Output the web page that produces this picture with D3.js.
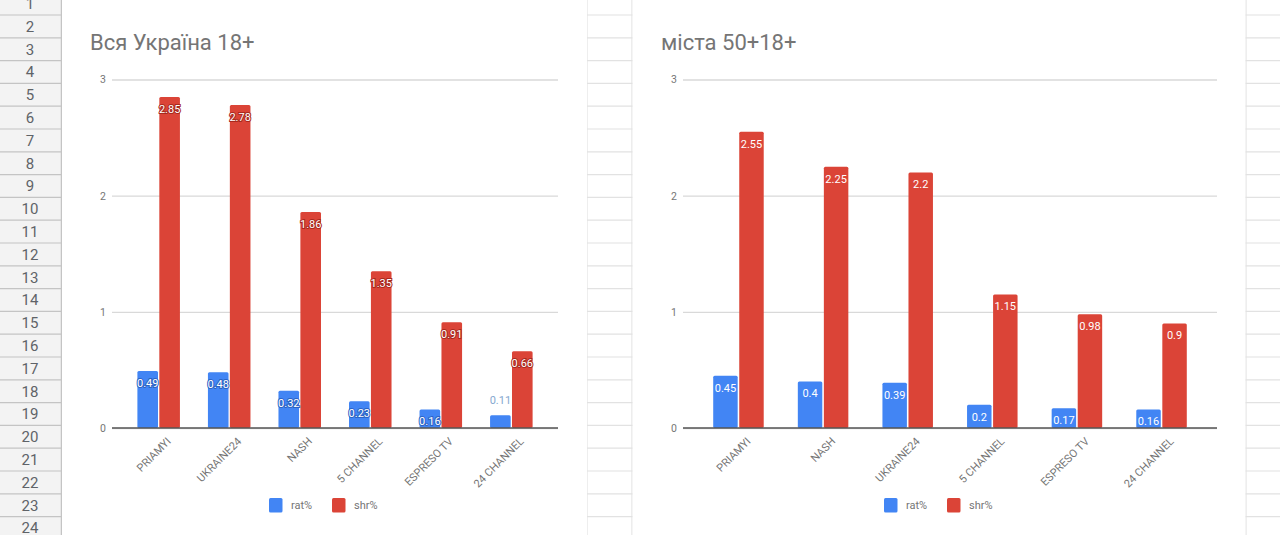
<!DOCTYPE html>
<html>
<head>
<meta charset="utf-8">
<script src="https://cdn.jsdelivr.net/npm/d3@7"></script>
<style>
  body { margin: 0; background: #fff; }
  svg { display: block; font-family: Roboto, "Noto Sans", Arial, sans-serif; }
</style>
</head>
<body>
<div id="sheet"></div>
<script>
// Chart data
const categoriesAll = ["PRIAMYI", "UKRAINE24", "NASH", "5 CHANNEL", "ESPRESO TV", "24 CHANNEL"];
const ratAll = [0.49, 0.48, 0.32, 0.23, 0.16, 0.11];
const shrAll = [2.85, 2.78, 1.86, 1.35, 0.91, 0.66];

const categoriesCities = ["PRIAMYI", "NASH", "UKRAINE24", "5 CHANNEL", "ESPRESO TV", "24 CHANNEL"];
const ratCities = [0.45, 0.4, 0.39, 0.2, 0.17, 0.16];
const shrCities = [2.55, 2.25, 2.2, 1.15, 0.98, 0.9];

const seriesNames = ["rat%", "shr%"];
const yTicks = [0, 1, 2, 3];
const rowNumbers = d3.range(1, 25);

const BLUE = "#4285F4";
const RED = "#DB4437";
const TEXT_GRAY = "#757575";

const width = 1280;
const height = 535;

const svg = d3
  .select("#sheet")
  .append("svg")
  .attr("width", width)
  .attr("height", height);

// Spreadsheet background: cell grid lines and row header
const rowTop = (n) => 15 + (n - 2) * 22.8;

svg
  .selectAll(".cell-line")
  .data(rowNumbers)
  .enter()
  .append("line")
  .attr("class", "cell-line")
  .attr("x1", 62)
  .attr("x2", width)
  .attr("y1", (d) => rowTop(d + 1))
  .attr("y2", (d) => rowTop(d + 1))
  .attr("stroke", "#e2e2e2")
  .attr("stroke-width", 1.2);

[587, 632, 1246].forEach((x) => {
  svg
    .append("line")
    .attr("x1", x)
    .attr("x2", x)
    .attr("y1", 0)
    .attr("y2", height)
    .attr("stroke", "#e2e2e2")
    .attr("stroke-width", 1.2);
});

svg
  .append("rect")
  .attr("x", 0)
  .attr("y", 0)
  .attr("width", 61)
  .attr("height", height)
  .attr("fill", "#f3f3f3");

svg
  .selectAll(".row-line")
  .data(rowNumbers)
  .enter()
  .append("line")
  .attr("class", "row-line")
  .attr("x1", 0)
  .attr("x2", 61)
  .attr("y1", (d) => rowTop(d + 1))
  .attr("y2", (d) => rowTop(d + 1))
  .attr("stroke", "#c4c4c4")
  .attr("stroke-width", 1.2);

svg
  .append("line")
  .attr("x1", 61.5)
  .attr("x2", 61.5)
  .attr("y1", 0)
  .attr("y2", height)
  .attr("stroke", "#c4c4c4")
  .attr("stroke-width", 1.5);

svg
  .selectAll(".row-label")
  .data(rowNumbers)
  .enter()
  .append("text")
  .attr("class", "row-label")
  .attr("x", 30)
  .attr("y", (d) => rowTop(d) + 11.4)
  .attr("dy", "0.36em")
  .attr("text-anchor", "middle")
  .style("font-size", "15px")
  .style("fill", "#5f6368")
  .text((d) => d);

/**
 * @function drawChart
 * @description Clustered column chart in the Google Sheets style
 */
function drawChart(opts) {
  const { left, right, title, titleX, gridX, categories, rat, shr, outlined } = opts;

  const g = svg.append("g");

  // White chart area over the cell grid
  g.append("rect")
    .attr("x", left)
    .attr("y", 0)
    .attr("width", right - left)
    .attr("height", height)
    .attr("fill", "#fff");

  g.append("text")
    .attr("x", titleX)
    .attr("y", 50)
    .style("font-size", "22px")
    .style("fill", TEXT_GRAY)
    .text(title);

  const yScale = d3.scaleLinear().domain([0, 3]).range([428, 79.5]);

  const xScale = d3
    .scaleBand()
    .domain(categories)
    .range(gridX)
    .paddingInner(opts.paddingInner)
    .paddingOuter(opts.paddingOuter);

  const xSub = d3
    .scaleBand()
    .domain(seriesNames)
    .range([0, xScale.bandwidth()])
    .paddingInner(0.06);

  // Gridlines and y labels
  const yAxis = d3
    .axisLeft(yScale)
    .tickValues(yTicks)
    .tickSize(-(gridX[1] - gridX[0]))
    .tickPadding(6)
    .tickFormat(d3.format("d"));

  const yg = g
    .append("g")
    .attr("transform", `translate(${gridX[0]}, 0)`)
    .call(yAxis);
  yg.select(".domain").remove();
  yg.selectAll(".tick line").attr("stroke", "#d9d9d9").attr("stroke-width", 1.3);
  yg.selectAll(".tick text")
    .style("font-size", "10.5px")
    .style("font-family", "Roboto, Arial, sans-serif")
    .style("fill", TEXT_GRAY);

  const rows = categories.map((c, i) => ({ category: c, values: [rat[i], shr[i]] }));

  const groups = g
    .selectAll(".group")
    .data(rows)
    .enter()
    .append("g")
    .attr("class", "group")
    .attr("transform", (d) => `translate(${xScale(d.category)}, 0)`);

  const colours = [BLUE, RED];
  const darker = ["#2c63c4", "#a8291e"];

  groups
    .selectAll("rect")
    .data((d) => d.values.map((v, k) => ({ v, k })))
    .enter()
    .append("rect")
    .attr("x", (d) => xSub(seriesNames[d.k]))
    .attr("y", (d) => yScale(d.v))
    .attr("width", xSub.bandwidth())
    .attr("height", (d) => yScale(0) - yScale(d.v))
    .attr("rx", 1.5)
    .attr("fill", (d) => colours[d.k]);

  // Data labels: inside the bar top, or above it when the bar is too short
  groups
    .selectAll(".value")
    .data((d) => d.values.map((v, k) => ({ v, k })))
    .enter()
    .append("text")
    .attr("class", "value")
    .attr("x", (d) => xSub(seriesNames[d.k]) + xSub.bandwidth() / 2)
    .attr("y", (d) => {
      const top = yScale(d.v);
      return yScale(0) - top > 15 ? top + 12 : top - 15;
    })
    .attr("dy", "0.36em")
    .attr("text-anchor", "middle")
    .style("font-size", "11px")
    .style("fill", (d) => (yScale(0) - yScale(d.v) > 15 ? "#fff" : "#86a8cf"))
    .style("stroke", (d) =>
      outlined && yScale(0) - yScale(d.v) > 15 ? darker[d.k] : "none"
    )
    .style("stroke-width", 2)
    .style("paint-order", "stroke")
    .text((d) => d.v);

  // Baseline and rotated category labels
  g.append("line")
    .attr("x1", gridX[0])
    .attr("x2", gridX[1])
    .attr("y1", yScale(0))
    .attr("y2", yScale(0))
    .attr("stroke", "#555")
    .attr("stroke-width", 1.5);

  g.selectAll(".cat")
    .data(categories)
    .enter()
    .append("text")
    .attr("class", "cat")
    .attr(
      "transform",
      (d) => `translate(${xScale(d) + xScale.bandwidth() / 2 + 13}, 442) rotate(-45)`
    )
    .attr("text-anchor", "end")
    .style("font-size", "11px")
    .style("fill", TEXT_GRAY)
    .text((d) => d);

  // Legend
  const legendX = (gridX[0] + gridX[1]) / 2 - 66;
  const legend = g
    .selectAll(".legend")
    .data(seriesNames)
    .enter()
    .append("g")
    .attr("class", "legend")
    .attr("transform", (d, i) => `translate(${legendX + i * 63}, 498)`);

  legend
    .append("rect")
    .attr("width", 13.5)
    .attr("height", 14.5)
    .attr("rx", 1.5)
    .attr("fill", (d, i) => colours[i]);

  legend
    .append("text")
    .attr("x", 22)
    .attr("y", 7.5)
    .attr("dy", "0.36em")
    .style("font-size", "11px")
    .style("fill", TEXT_GRAY)
    .text((d) => d);
}

drawChart({
  left: 62,
  right: 587,
  title: "Вся Україна 18+",
  titleX: 90,
  gridX: [112, 558],
  paddingInner: 0.397,
  paddingOuter: 0.36,
  categories: categoriesAll,
  rat: ratAll,
  shr: shrAll,
  outlined: true,
});

drawChart({
  left: 632.6,
  right: 1245.4,
  title: "міста 50+18+",
  titleX: 661,
  gridX: [683, 1217],
  paddingInner: 0.403,
  paddingOuter: 0.357,
  categories: categoriesCities,
  rat: ratCities,
  shr: shrCities,
  outlined: false,
});
</script>
</body>
</html>
